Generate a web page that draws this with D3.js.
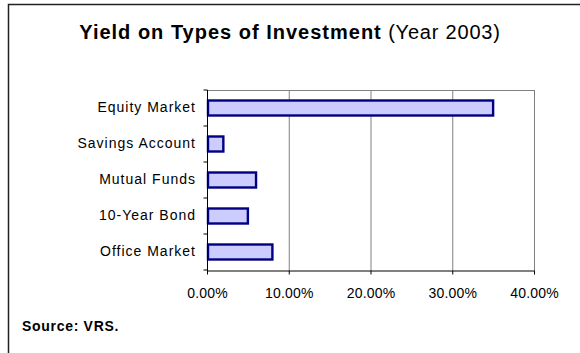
<!DOCTYPE html>
<html>
<head>
<meta charset="utf-8">
<script src="https://cdn.jsdelivr.net/npm/d3@7"></script>
<style>
  html, body { margin: 0; padding: 0; background: #fff; }
  svg { display: block; font-family: "Liberation Sans", Arial, sans-serif; }
</style>
</head>
<body>
<svg id="chart" width="580" height="353"></svg>
<script>
// Yield by investment type, 2003 (percent)
const categories = ["Equity Market", "Savings Account", "Mutual Funds", "10-Year Bond", "Office Market"];
const yields = [35, 2, 6, 5, 8];
const tickValues = [0, 10, 20, 30, 40];

const svg = d3.select("#chart");

// outer frame (only top and left edges fall inside the view)
svg.append("rect")
  .attr("x", 8.5).attr("y", 4.5)
  .attr("width", 600).attr("height", 400)
  .attr("fill", "none").attr("stroke", "#222").attr("stroke-width", 1.5);

// title
const title = svg.append("text")
  .attr("x", 290).attr("y", 39)
  .attr("text-anchor", "middle")
  .attr("font-size", 20).attr("fill", "#000");
title.append("tspan").attr("font-weight", "bold").attr("letter-spacing", 1.0)
  .text("Yield on Types of Investment");
title.append("tspan").attr("letter-spacing", 0.8).text(" (Year 2003)");

const plot = { left: 207, right: 534, top: 90, bottom: 270 };

const x = d3.scaleLinear().domain([0, 40]).range([plot.left, plot.right]);
const y = d3.scaleBand().domain(categories).range([plot.top, plot.bottom]);
const step = y.step();
const barH = 15;

// vertical gridlines and plot-area frame
svg.append("g")
  .selectAll("line")
  .data(tickValues.slice(1))
  .join("line")
  .attr("x1", d => x(d) + 0.5).attr("x2", d => x(d) + 0.5)
  .attr("y1", plot.top).attr("y2", plot.bottom)
  .attr("stroke", "#808080").attr("stroke-width", 1);
svg.append("line")
  .attr("x1", plot.left).attr("x2", plot.right + 0.5)
  .attr("y1", plot.top + 0.5).attr("y2", plot.top + 0.5)
  .attr("stroke", "#808080");

// bars
svg.append("g")
  .selectAll("rect")
  .data(categories)
  .join("rect")
  .attr("x", plot.left + 1)
  .attr("y", d => y(d) + step / 2 - barH / 2)
  .attr("width", (d, i) => x(yields[i]) - plot.left - 1)
  .attr("height", barH)
  .attr("fill", "#CCCCFF")
  .attr("stroke", "#000080")
  .attr("stroke-width", 2.4);

// x axis
const xAxis = svg.append("g")
  .attr("transform", `translate(0,${plot.bottom + 0.5})`)
  .call(d3.axisBottom(x).tickValues(tickValues).tickSize(4).tickSizeOuter(0)
    .tickFormat(d => d3.format(".2f")(d) + "%"));
xAxis.select(".domain").attr("stroke", "#000");
xAxis.selectAll(".tick line").attr("stroke", "#000");
xAxis.selectAll(".tick text")
  .attr("font-size", 14).attr("font-family", "Liberation Sans, Arial, sans-serif")
  .attr("letter-spacing", 0.2)
  .attr("fill", "#000").attr("y", 27.5).attr("dy", 0);

// y axis with ticks between categories
const yAxis = svg.append("g")
  .attr("transform", `translate(${plot.left + 0.5},0)`);
yAxis.append("line")
  .attr("x1", 0).attr("x2", 0)
  .attr("y1", plot.top).attr("y2", plot.bottom + 4)
  .attr("stroke", "#000");
yAxis.selectAll("line.sep")
  .data(d3.range(categories.length + 1))
  .join("line")
  .attr("class", "sep")
  .attr("x1", -4).attr("x2", 0)
  .attr("y1", i => plot.top + i * step).attr("y2", i => plot.top + i * step)
  .attr("stroke", "#000");
yAxis.selectAll("text")
  .data(categories)
  .join("text")
  .attr("x", -11.5)
  .attr("y", d => y(d) + step / 2)
  .attr("dy", "0.32em")
  .attr("text-anchor", "end")
  .attr("font-size", 14)
  .attr("letter-spacing", 1.0)
  .attr("fill", "#000")
  .text(d => d);

// source note
svg.append("text")
  .attr("x", 22).attr("y", 331)
  .attr("font-size", 14).attr("font-weight", "bold")
  .attr("letter-spacing", 0.7)
  .attr("fill", "#000")
  .text("Source: VRS.");
</script>
</body>
</html>
